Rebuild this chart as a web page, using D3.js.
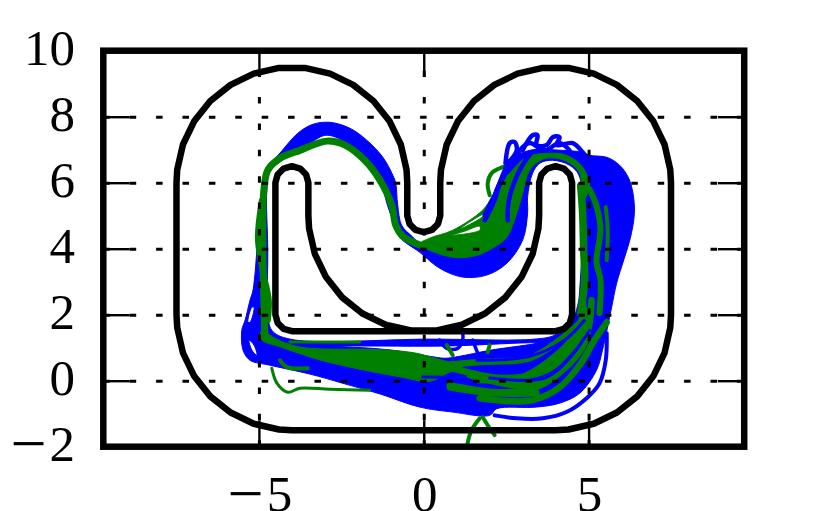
<!DOCTYPE html>
<html>
<head>
<meta charset="utf-8">
<script src="https://cdnjs.cloudflare.com/ajax/libs/d3/7.8.5/d3.min.js"></script>
<style>
html,body{margin:0;padding:0;background:#fff}
svg{display:block}
text{font-family:"Liberation Serif",serif;fill:#000}
</style>
</head>
<body>
<svg id="chart" width="827" height="511"></svg>
<script>
const xTicks = [-5, 0, 5];
const yTicks = [-2, 0, 2, 4, 6, 8, 10];

const trackOuter = [[-7.5,2],[-7.478,1.608],[-7.304,.843],[-6.965,.14],[-6.475,-.475],[-5.86,-.965],[-5.157,-1.304],[-4.392,-1.478],[-4,-1.5],
 [4,-1.5],[4.392,-1.478],[5.157,-1.304],[5.86,-.965],[6.475,-.475],[6.965,.14],[7.304,.843],[7.478,1.608],[7.5,2],
 [7.5,6],[7.478,6.392],[7.304,7.157],[6.965,7.86],[6.475,8.475],[5.86,8.965],[5.157,9.304],[4.392,9.478],[3.608,9.478],[2.843,9.304],[2.14,8.965],[1.525,8.475],[1.035,7.86],[.696,7.157],[.522,6.392],[.5,6],
 [.5,5],[.43,4.75],[.25,4.57],[0,4.5],[-.25,4.57],[-.43,4.75],[-.5,5],
 [-.5,6],[-.522,6.392],[-.696,7.157],[-1.035,7.86],[-1.525,8.475],[-2.14,8.965],[-2.843,9.304],[-3.608,9.478],[-4.392,9.478],[-5.157,9.304],[-5.86,8.965],[-6.475,8.475],[-6.965,7.86],[-7.304,7.157],[-7.478,6.392],[-7.5,6]];
const trackInner = [[-4.5,2],[-4.43,1.75],[-4.25,1.57],[-4,1.5],[4,1.5],[4.25,1.57],[4.43,1.75],[4.5,2],
 [4.5,6],[4.43,6.25],[4.25,6.43],[4,6.5],[3.75,6.43],[3.57,6.25],[3.5,6],[3.5,5],
 [3.478,4.608],[3.304,3.843],[2.965,3.14],[2.475,2.525],[1.86,2.035],[1.157,1.696],[.392,1.522],[-.392,1.522],[-1.157,1.696],[-1.86,2.035],[-2.475,2.525],[-2.965,3.14],[-3.304,3.843],[-3.478,4.608],[-3.5,5],
 [-3.5,6],[-3.57,6.25],[-3.75,6.43],[-4,6.5],[-4.25,6.43],[-4.43,6.25],[-4.5,6]];

// blue envelope of the many laps
const blueOuter = [[-5.18,2.74],[-5.03,4.35],[-4.91,5.77],[-4.79,6.44],[-4.42,6.83],[-3.82,7.5],[-3.36,7.77],[-2.85,7.83],[-2.24,7.65],[-1.73,7.29],[-1.24,6.77],[-.94,6.23],[-.85,5.98],[-.79,5.32],[-.67,4.71],[-.36,4.38],[-.12,4.17],[.64,3.95],[1.39,4.11],[1.85,4.71],[2.15,5.77],[2.3,6.1],[2.61,6.68],[3.21,6.98],[4.21,6.98],[4.82,6.92],[5.03,6.83],[5.55,6.77],[5.94,6.53],[6.24,6.08],[6.39,5.26],[6.3,4.47],[5.85,2.95],[5.7,2.23],[5.42,.92],[5.24,.32],[4.73,-.38],[4.12,-.68],[3.42,-.8],[2.21,-.85],[2,-1.05],[.88,-.95],[-.12,-.8],[-1.33,-.4],[-2.45,-.08],[-3.45,.2],[-4.67,.47],[-5.27,.62],[-5.48,.92],[-5.52,1.53],[-5.42,1.83],[-5.27,2.44]];
const blueInner = [[-4.73,2.14],[-4.73,3.95],[-4.76,5.77],[-4.67,6.32],[-4.21,6.74],[-3.45,7.2],[-2.94,7.44],[-2.24,7.14],[-1.88,6.74],[-1.55,6.38],[-1.27,5.92],[-1.12,5.38],[-.94,4.86],[-.73,4.35],[-.12,3.89],[.48,3.41],[1.18,3.14],[1.91,3.2],[2.52,3.56],[3,4.26],[3.15,5.08],[3.15,5.56],[3.3,6.29],[3.52,6.59],[3.91,6.68],[4.42,6.53],[4.73,6.17],[4.73,2.74],[4.67,2.29],[4.48,1.77],[3.97,1.38],[3.36,1.26],[.18,1.26],[-4.06,1.26],[-4.61,1.53]];
const blueGapBottom = [[-2.7,1.05],[-1.55,1.05],[.64,1.05],[3.42,1.14],[2,.92],[1.09,.74],[.64,.68],[.18,.74],[-.21,.8],[-.94,.92],[-1.55,.98]];
const blueGapCornerLow = [[-5.3,1.23],[-5.21,.92],[-5.06,.77],[-5.15,1.08]];
const blueGapCornerHigh = [[-5.21,2.23],[-5.33,1.77],[-5.27,1.77],[-5.15,2.23]];

const blueLoopFar = [[2.15,-1.05],[2.82,-1.14],[3.61,-1.14],[4.33,-.95],[4.94,-.53],[5.33,-.08],[5.52,.62],[5.55,1.44]];
const blueKnob = [[1.18,1.47],[1.18,1.23],[1.03,.98],[.7,.98],[.48,1.23]];
const blueStub = [[1.48,1.23],[1.64,.83]];
const blueSquiggleA = [[2.48,6.59],[2.61,7.2],[2.76,7.23],[2.82,6.98],[2.55,6.59]];
const blueSquiggleB = [[3,6.98],[3.3,7.44],[3.45,7.44],[3.42,7.14],[3.73,7.14],[3.91,7.38],[4.12,7.38],[4.03,7.14],[4.52,7.2],[4.82,6.92],[4.94,6.77]];
const blueSquiggleC = [[2.67,6.53],[2.91,6.98],[3.21,7.2],[3.67,6.98],[4.12,7.2],[4.42,6.98]];
const blueBowlA = [[1.85,5.02],[2.15,5.62],[2.45,6.23],[2.91,6.98]];
const blueBowlB = [[2.55,4.86],[2.58,5.47],[2.91,6.38],[3.27,6.92]];
const blueBowlC = [[1.85,4.86],[2.15,5.47],[2.3,5.98],[2.55,6.59]];
const blueBaseA = [[-.03,.11],[.88,.08],[1.55,-.05]];
const blueBaseB = [[1.61,.62],[3.21,.74],[4.27,1.23],[4.88,1.83]];
const blueBaseC = [[2,.08],[3.67,.08],[4.42,.68],[5.03,1.53]];

// green envelope and single laps
const greenArch = [[-4.82,1.38],[-4.85,2.44],[-4.88,4.26],[-4.85,5.77],[-4.73,6.38],[-4.36,6.74],[-3.76,6.98],[-2.94,7.26],[-2.39,7.14],[-1.79,6.68],[-1.33,6.08],[-.97,5.32],[-.85,4.71],[-.64,4.38],[-.12,4.11]];
const greenColumn = [[-4.73,1.83],[-4.7,2.44],[-4.9,3.4],[-5.03,4.32],[-4.91,5.47]];
const greenBowl = [[-.12,4.14],[.18,4.32],[.88,4.56],[1.79,5.17],[2.06,5.56],[2.3,5.92],[2.61,6.29],[3.12,6.77],[3.73,6.89],[4.33,6.83],[4.82,6.47],[5.03,5.86],[4.82,5.47],[4.73,6.29],[4.42,6.6],[4.03,6.74],[3.61,6.71],[3.21,6.38],[3,5.68],[2.82,5.08],[2.52,4.35],[2.09,4.02],[1.61,3.8],[.88,3.74]];
const greenBowlGapA = [[.85,4.41],[1.7,4.56],[1.7,4.68],[1.24,4.53]];
const greenBowlGapB = [[1.09,4.59],[1.76,4.95],[1.82,5.05],[1.33,4.77]];
const greenBase = [[-4.91,1.53],[-4.52,1.29],[-3.76,1.02],[-1.64,.95],[-.94,.92],[-.21,.83],[.24,.71],[.79,.56],[1.2,.45],[.7,.22],[.18,-.02],[-.73,.12],[-1.85,.33],[-3.15,.63],[-4.36,1.03],[-4.91,1.24]];
const greenFlat = [[-4.06,1.17],[-1.94,1.17]];
const greenRightA = [[4.76,5.9],[4.82,5.05],[4.85,3.98],[4.88,3.06],[4.76,2.05]];
const greenRightB = [[5.03,5.8],[5.24,5.29],[5.36,4.59],[5.24,3.59],[5.36,3.08],[5.33,2.05]];
const greenRightC = [[5.52,5.26],[5.58,4.56],[5.55,3.65]];
const greenTurnA = [[1.7,-.53],[2.61,-.62],[3.3,-.59],[4.12,-.2],[4.73,.47],[5.18,1.23],[5.55,1.77]];
const greenTurnB = [[.79,-.14],[2.39,-.35],[3.42,-.2],[4.21,.32],[4.82,1.02],[5.03,1.74],[5.09,2.44]];
const greenTurnC = [[-.12,.62],[.7,.41],[2.39,.08],[3.73,.32],[4.33,.83],[4.82,1.53],[4.82,2.44]];
const greenTurnD = [[-.12,.41],[1.61,.56],[3.21,.68],[4.12,1.23],[4.73,1.74]];
const greenTurnE = [[.79,-.2],[2.09,-.38],[3.42,-.38]];
const greenTurnF = [[1.39,.17],[2.91,-.14],[3.97,.17],[4.58,.77]];
const greenTurnG = [[1.61,.02],[2.91,.08],[3.91,.68],[4.58,1.38],[4.88,2.14]];
const greenStubA = [[.7,1.08],[.88,.77]];
const greenStubB = [[2,1.08],[1.94,.86]];
const greenExitA = [[1.33,-1.89],[1.45,-1.5],[1.7,-1.14]];
const greenExitB = [[2.15,-1.65],[1.94,-1.35],[1.79,-1.11]];
const greenStray = [[-4.61,.38],[-4.45,-.08],[-4.12,-.35],[-3.76,-.23],[-2.85,-.26],[-1.64,-.29]];
const greenStrayShort = [[-4.36,.62],[-4.15,.41],[-3.52,.38]];
const greenSquiggle = [[2,5.62],[1.94,5.98],[2.06,6.29],[2.39,6.47],[2.61,6.53]];

const BLUE = "#0000ff", GREEN = "#008000";
const frame = {left:103.3, right:744.2, top:50.7, bottom:446.7};

const svg = d3.select("#chart");
const x = d3.scaleLinear().domain([-9.72,9.72]).range([frame.left,frame.right]);
const y = d3.scaleLinear().domain([-2,10]).range([frame.bottom,frame.top]);
const line = d3.line().x(d=>x(d[0])).y(d=>y(d[1]));
const smooth = d3.line().x(d=>x(d[0])).y(d=>y(d[1])).curve(d3.curveCatmullRom.alpha(.5));
const smoothRing = d3.line().x(d=>x(d[0])).y(d=>y(d[1])).curve(d3.curveCatmullRomClosed.alpha(.5));

const plot = svg.append("g");
function fill(rings,color){
  plot.append("path").attr("d",rings.map(r=>smoothRing(r)).join("")).attr("fill",color).attr("fill-rule","evenodd")
    .attr("stroke",color).attr("stroke-width",1).attr("stroke-linejoin","round");
}
function trace(pts,color,width){
  plot.append("path").attr("d",smooth(pts)).attr("fill","none").attr("stroke",color)
    .attr("stroke-width",width).attr("stroke-linejoin","round").attr("stroke-linecap","round");
}

fill([blueOuter,blueInner,blueGapBottom,blueGapCornerLow,blueGapCornerHigh],BLUE);
trace(blueLoopFar,BLUE,4);
trace(blueKnob,BLUE,3.5);
trace(blueStub,BLUE,3.5);
[blueSquiggleA,blueSquiggleB,blueSquiggleC].forEach(p=>trace(p,BLUE,4.5));

fill([greenBowl,greenBowlGapA,greenBowlGapB],GREEN);
fill([greenBase],GREEN);
trace(greenArch,GREEN,7);
trace(greenColumn,GREEN,6);
trace(greenFlat,GREEN,3);
trace(greenRightA,GREEN,7.5);
trace(greenRightB,GREEN,6);
trace(greenRightC,GREEN,4);
[greenTurnA,greenTurnB,greenTurnC,greenTurnD,greenTurnE,greenTurnF,greenTurnG].forEach(p=>trace(p,GREEN,6.5));
[greenStubA,greenStubB,greenExitA,greenExitB,greenSquiggle,greenStrayShort].forEach(p=>trace(p,GREEN,4));
trace(greenStray,GREEN,3);

[blueBowlA,blueBowlB,blueBowlC].forEach(p=>trace(p,BLUE,4.5));
[blueBaseA,blueBaseB,blueBaseC].forEach(p=>trace(p,BLUE,3));

// track
[trackOuter,trackInner].forEach(t=>{
  plot.append("path").attr("d",line(t)+"Z").attr("fill","none").attr("stroke","#000")
    .attr("stroke-width",6.5).attr("stroke-linejoin","round");
});

// grid lines
const h = frame.bottom-frame.top, w = frame.right-frame.left;
const gridX = svg.append("g").attr("transform",`translate(0,${frame.bottom})`)
  .call(d3.axisBottom(x).tickValues(xTicks).tickSize(-h).tickFormat(""));
const gridY = svg.append("g").attr("transform",`translate(${frame.left},0)`)
  .call(d3.axisLeft(y).tickValues(yTicks.slice(1,-1)).tickSize(-w).tickFormat(""));
[gridX,gridY].forEach(g=>{
  g.select(".domain").remove();
  g.selectAll("line").attr("stroke","#000").attr("stroke-width",3).attr("stroke-dasharray","6.5 19.9");
});

// tick marks
const TICK = 26.4;
const axes = [
  svg.append("g").attr("transform",`translate(0,${frame.bottom})`).call(d3.axisBottom(x).tickValues(xTicks).tickSize(-TICK).tickFormat("")),
  svg.append("g").attr("transform",`translate(0,${frame.top})`).call(d3.axisTop(x).tickValues(xTicks).tickSize(-TICK).tickFormat("")),
  svg.append("g").attr("transform",`translate(${frame.left},0)`).call(d3.axisLeft(y).tickValues(yTicks).tickSize(-TICK).tickFormat("")),
  svg.append("g").attr("transform",`translate(${frame.right},0)`).call(d3.axisRight(y).tickValues(yTicks).tickSize(-TICK).tickFormat(""))
];
axes.forEach(g=>{
  g.select(".domain").remove();
  g.selectAll("line").attr("stroke","#000").attr("stroke-width",2.4);
});

// frame
svg.append("rect").attr("x",frame.left).attr("y",frame.top).attr("width",w).attr("height",h)
  .attr("fill","none").attr("stroke","#000").attr("stroke-width",6.5);

// tick labels: the minus sign is set wider, as in the reference
function label(sel,d){
  sel.text(null);
  if(d<0){
    sel.append("tspan").attr("font-size",64).attr("dy",3.5).text("\u2212");
    sel.append("tspan").attr("dy",-3.5).attr("dx",3).text(Math.abs(d));
  } else sel.text(d);
}
svg.append("g").selectAll("text").data(yTicks).join("text")
  .attr("x",75).attr("y",d=>y(d)+14.5).attr("text-anchor","end")
  .attr("font-size",51).each(function(d){label(d3.select(this),d);});
svg.append("g").selectAll("text").data(xTicks).join("text")
  .attr("x",d=>x(d)+1).attr("y",511).attr("text-anchor","middle")
  .attr("font-size",51).each(function(d){label(d3.select(this),d);});
</script>
</body>
</html>
